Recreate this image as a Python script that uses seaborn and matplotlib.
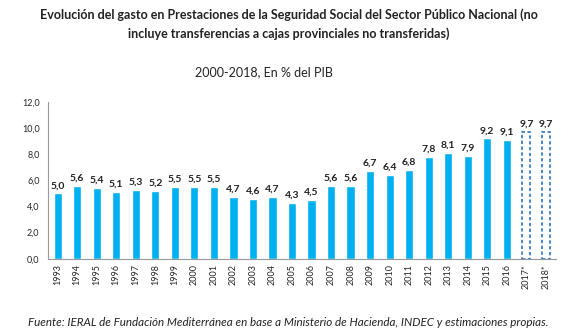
import matplotlib
matplotlib.use("Agg")
import matplotlib.pyplot as plt
import seaborn as sns
import pandas as pd

years = ["1993", "1994", "1995", "1996", "1997", "1998", "1999", "2000", "2001",
         "2002", "2003", "2004", "2005", "2006", "2007", "2008", "2009", "2010",
         "2011", "2012", "2013", "2014", "2015", "2016", "2017*", "2018*"]
values = [5.0, 5.6, 5.4, 5.1, 5.3, 5.2, 5.5, 5.5, 5.5, 4.7, 4.6, 4.7, 4.3, 4.5,
          5.6, 5.6, 6.7, 6.4, 6.8, 7.8, 8.1, 7.9, 9.2, 9.1, 9.7, 9.7]
estimated = ["2017*", "2018*"]

sns.set_style("white")
plt.rcParams["font.family"] = ["Lato", "DejaVu Sans"]

df = pd.DataFrame({"year": years, "value": values})

fig = plt.figure(figsize=(5.77, 3.34), dpi=100)
ax = fig.add_axes([0.083, 0.225, 0.88, 0.47])

sns.barplot(data=df, x="year", y="value", color="#00B0F0", width=0.42,
            saturation=1, ax=ax)

for patch, yr in zip(ax.patches, years):
    if yr in estimated:
        patch.set_facecolor("none")
        patch.set_edgecolor("#2E75B6")
        patch.set_linestyle((0, (2, 1.5)))
        patch.set_linewidth(1.2)

for i, v in enumerate(values):
    ax.text(i, v + 0.25, f"{v:.1f}".replace(".", ","), ha="center", va="bottom",
            fontsize=7.5, fontweight="bold", color="#222222")

ax.set_ylim(0, 12)
ax.set_xlim(-0.5, len(years) - 0.5)
ax.set_yticks(range(0, 13, 2))
ax.set_yticklabels([f"{t:.1f}".replace(".", ",") for t in range(0, 13, 2)], fontsize=6.5)
ax.set_xticks(range(len(years)))
ax.set_xticklabels(years, rotation=90, fontsize=6.5)
ax.set_xlabel("")
ax.set_ylabel("")

for s in ["top", "right"]:
    ax.spines[s].set_visible(False)
for s in ["left", "bottom"]:
    ax.spines[s].set_color("#999999")
    ax.spines[s].set_linewidth(0.8)
ax.tick_params(axis="y", length=3, color="#999999", pad=3)
ax.tick_params(axis="x", length=0, pad=4)
ax.set_xticks([i - 0.5 for i in range(len(years) + 1)], minor=True)
ax.tick_params(axis="x", which="minor", length=3, color="#999999")

fig.text(0.5, 0.955, "Evolución del gasto en Prestaciones de la Seguridad Social del Sector Público Nacional (no",
         ha="center", va="center", fontsize=9, fontweight="bold", color="#222222")
fig.text(0.5, 0.9, "incluye transferencias a cajas provinciales no transferidas)",
         ha="center", va="center", fontsize=9, fontweight="bold", color="#222222")
fig.text(0.458, 0.785, "2000-2018, En % del PIB", ha="center", va="center",
         fontsize=9, color="#222222")
fig.text(0.5, 0.033, "Fuente: IERAL de Fundación Mediterránea en base a Ministerio de Hacienda, INDEC y estimaciones propias.",
         ha="center", va="center", fontsize=8.4, style="italic", color="#222222")

fig.savefig("out.png", dpi=100)
